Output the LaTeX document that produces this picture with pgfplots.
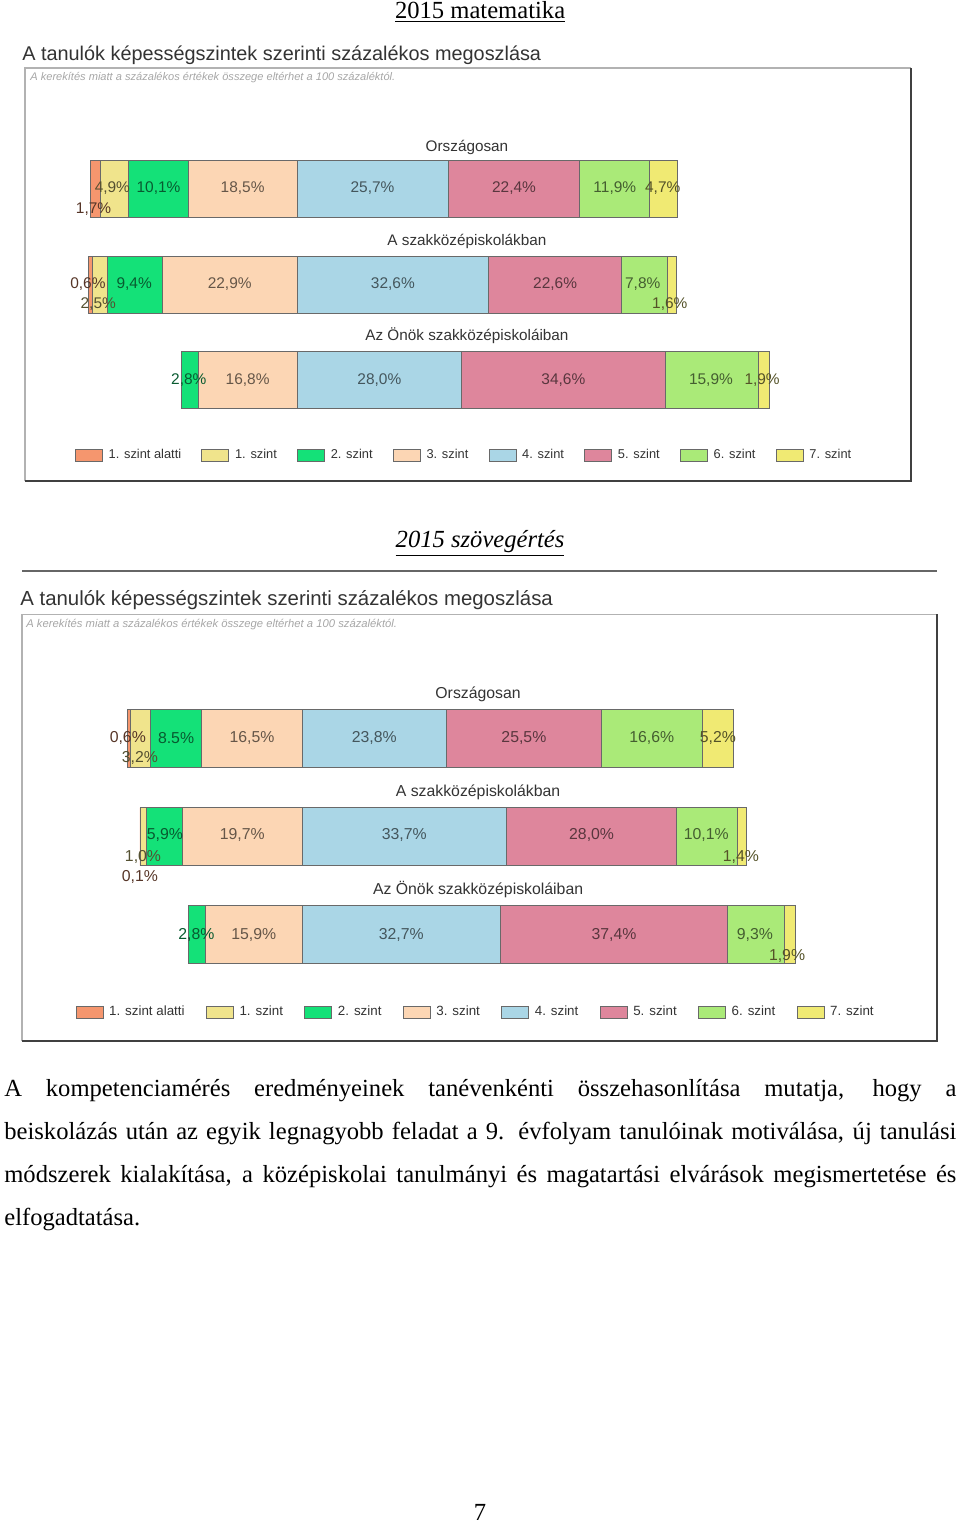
\documentclass[border=0pt]{standalone}
\usepackage{fontspec}
\setmainfont{Liberation Serif}
\newfontfamily\arial{Liberation Sans}
\usepackage{pgfplots}
\pgfplotsset{compat=1.18}

\definecolor{lv0}{RGB}{245,150,110}
\definecolor{lv1}{RGB}{240,228,140}
\definecolor{lv2}{RGB}{20,225,120}
\definecolor{lv3}{RGB}{252,214,180}
\definecolor{lv4}{RGB}{170,214,230}
\definecolor{lv5}{RGB}{222,134,156}
\definecolor{lv6}{RGB}{170,234,120}
\definecolor{lv7}{RGB}{240,234,115}
\definecolor{edge}{RGB}{105,105,105}
\definecolor{txt}{RGB}{51,51,51}

\pgfplotsset{
  lvl/.style={fill=#1, draw=edge, line width=0.5pt,
    legend image code/.code={\draw[fill=#1,draw=edge,line width=0.5pt] (0cm,-0.12cm) rectangle (0.54cm,0.12cm);}},
  geomA/.style={hide axis, scale only axis, clip=false, at={(9.36cm,-5.49cm)}, anchor=center,
    width=17.72cm, height=8.26cm, xmin=3.74, xmax=154.42, ymin=-481, ymax=-68},
  geomB/.style={hide axis, scale only axis, clip=false, at={(9.59cm,-16.55cm)}, anchor=center,
    width=18.3cm, height=8.54cm, xmin=3.87, xmax=154.6, ymin=-1041, ymax=-614},
  szint/.style={xbar stacked, legend columns=8,
    legend style={draw=none, fill=none, anchor=center, inner sep=0pt, text=txt,
      nodes={inner sep=1pt},
      /tikz/every odd column/.append style={column sep=0.08cm}}},
}
\tikzset{
  lab/.style={font=\arial\fontsize{#1}{10}\selectfont, inner sep=0pt},
  grp/.style={font=\arial\fontsize{#1}{10}\selectfont, text=txt, inner sep=0pt},
}

\begin{document}
\begin{tikzpicture}
\path[use as bounding box] (0,0) rectangle (19.2cm,-30.5cm);

% ---------- 2015 matematika ----------
\begin{axis}[geomA, szint, bar width=57,
  legend style={at={(0.4955,0.063)}, font=\arial\fontsize{7.3}{8}\selectfont,
    /tikz/every even column/.append style={column sep=0.37cm}}]
\addplot[draw=none, fill=none, forget plot] coordinates {(14.8,-188.5) (14.6,-284.5) (30.4,-380)};
\addplot[lvl=lv0] coordinates {(1.7,-188.5) (0.6,-284.5) (0,-380)};
\addplot[lvl=lv1] coordinates {(4.9,-188.5) (2.5,-284.5) (0,-380)};
\addplot[lvl=lv2] coordinates {(10.1,-188.5) (9.4,-284.5) (2.8,-380)};
\addplot[lvl=lv3] coordinates {(18.5,-188.5) (22.9,-284.5) (16.8,-380)};
\addplot[lvl=lv4] coordinates {(25.7,-188.5) (32.6,-284.5) (28.0,-380)};
\addplot[lvl=lv5] coordinates {(22.4,-188.5) (22.6,-284.5) (34.6,-380)};
\addplot[lvl=lv6] coordinates {(11.9,-188.5) (7.8,-284.5) (15.9,-380)};
\addplot[lvl=lv7] coordinates {(4.7,-188.5) (1.6,-284.5) (1.9,-380)};
\legend{1. szint alatti,1. szint,2. szint,3. szint,4. szint,5. szint,6. szint,7. szint}
\end{axis}
% labels on top of the bars
\begin{axis}[geomA]
\node[grp=8.7] at (axis cs:78.9,-147) {Országosan};
\node[grp=8.7] at (axis cs:78.9,-241) {A szakközépiskolákban};
\node[grp=8.7] at (axis cs:78.9,-336) {Az Önök szakközépiskoláiban};
\node[lab=8.8, text=lv0!35!black] at (axis cs:15.4,-209) {1,7\%};
\node[lab=8.8, text=lv1!35!black] at (axis cs:18.6,-188.5) {4,9\%};
\node[lab=8.8, text=lv2!40!black] at (axis cs:26.45,-188.5) {10,1\%};
\node[lab=8.8, text=lv3!40!black] at (axis cs:40.75,-188.5) {18,5\%};
\node[lab=8.8, text=lv4!40!black] at (axis cs:62.85,-188.5) {25,7\%};
\node[lab=8.8, text=lv5!40!black] at (axis cs:86.9,-188.5) {22,4\%};
\node[lab=8.8, text=lv6!40!black] at (axis cs:104.05,-188.5) {11,9\%};
\node[lab=8.8, text=lv7!35!black] at (axis cs:112.2,-188.5) {4,7\%};
\node[lab=8.8, text=lv0!35!black] at (axis cs:14.45,-284.5) {0,6\%};
\node[lab=8.8, text=lv1!35!black] at (axis cs:16.2,-304) {2,5\%};
\node[lab=8.8, text=lv2!40!black] at (axis cs:22.3,-284.5) {9,4\%};
\node[lab=8.8, text=lv3!40!black] at (axis cs:38.55,-284.5) {22,9\%};
\node[lab=8.8, text=lv4!40!black] at (axis cs:66.3,-284.5) {32,6\%};
\node[lab=8.8, text=lv5!40!black] at (axis cs:93.9,-284.5) {22,6\%};
\node[lab=8.8, text=lv6!40!black] at (axis cs:108.8,-284.5) {7,8\%};
\node[lab=8.8, text=lv7!35!black] at (axis cs:113.4,-304) {1,6\%};
\node[lab=8.8, text=lv2!40!black] at (axis cs:31.6,-380) {2,8\%};
\node[lab=8.8, text=lv3!40!black] at (axis cs:41.6,-380) {16,8\%};
\node[lab=8.8, text=lv4!40!black] at (axis cs:64,-380) {28,0\%};
\node[lab=8.8, text=lv5!40!black] at (axis cs:95.3,-380) {34,6\%};
\node[lab=8.8, text=lv6!40!black] at (axis cs:120.4,-380) {15,9\%};
\node[lab=8.8, text=lv7!35!black] at (axis cs:129.1,-380) {1,9\%};
\end{axis}

% ---------- 2015 szövegértés ----------
\begin{axis}[geomB, szint, bar width=58,
  legend style={at={(0.4956,0.068)}, font=\arial\fontsize{7.6}{8}\selectfont,
    /tikz/every even column/.append style={column sep=0.39cm}}]
\addplot[draw=none, fill=none, forget plot] coordinates {(21.2,-738) (23.3,-836.5) (31.3,-934.5)};
\addplot[lvl=lv0] coordinates {(0.6,-738) (0.1,-836.5) (0,-934.5)};
\addplot[lvl=lv1] coordinates {(3.2,-738) (1.0,-836.5) (0,-934.5)};
\addplot[lvl=lv2] coordinates {(8.5,-738) (5.9,-836.5) (2.8,-934.5)};
\addplot[lvl=lv3] coordinates {(16.5,-738) (19.7,-836.5) (15.9,-934.5)};
\addplot[lvl=lv4] coordinates {(23.8,-738) (33.7,-836.5) (32.7,-934.5)};
\addplot[lvl=lv5] coordinates {(25.5,-738) (28.0,-836.5) (37.4,-934.5)};
\addplot[lvl=lv6] coordinates {(16.6,-738) (10.1,-836.5) (9.3,-934.5)};
\addplot[lvl=lv7] coordinates {(5.2,-738) (1.4,-836.5) (1.9,-934.5)};
\legend{1. szint alatti,1. szint,2. szint,3. szint,4. szint,5. szint,6. szint,7. szint}
\end{axis}
\begin{axis}[geomB]
\node[grp=9] at (axis cs:79,-694) {Országosan};
\node[grp=9] at (axis cs:79,-792) {A szakközépiskolákban};
\node[grp=9] at (axis cs:79,-890) {Az Önök szakközépiskoláiban};
\node[lab=9, text=lv0!35!black] at (axis cs:21.3,-738) {0,6\%};
\node[lab=9, text=lv1!35!black] at (axis cs:23.3,-758) {3,2\%};
\node[lab=9, text=lv2!40!black] at (axis cs:29.25,-738) {8.5\%};
\node[lab=9, text=lv3!40!black] at (axis cs:41.75,-738) {16,5\%};
\node[lab=9, text=lv4!40!black] at (axis cs:61.9,-738) {23,8\%};
\node[lab=9, text=lv5!40!black] at (axis cs:86.55,-738) {25,5\%};
\node[lab=9, text=lv6!40!black] at (axis cs:107.6,-738) {16,6\%};
\node[lab=9, text=lv7!35!black] at (axis cs:118.5,-738) {5,2\%};
\node[lab=9, text=lv0!35!black] at (axis cs:23.3,-877) {0,1\%};
\node[lab=9, text=lv1!35!black] at (axis cs:23.8,-857) {1,0\%};
\node[lab=9, text=lv2!40!black] at (axis cs:27.4,-835) {5,9\%};
\node[lab=9, text=lv3!40!black] at (axis cs:40.15,-835) {19,7\%};
\node[lab=9, text=lv4!40!black] at (axis cs:66.85,-835) {33,7\%};
\node[lab=9, text=lv5!40!black] at (axis cs:97.7,-835) {28,0\%};
\node[lab=9, text=lv6!40!black] at (axis cs:116.6,-835) {10,1\%};
\node[lab=9, text=lv7!35!black] at (axis cs:122.3,-857) {1,4\%};
\node[lab=9, text=lv2!40!black] at (axis cs:32.6,-934.5) {2,8\%};
\node[lab=9, text=lv3!40!black] at (axis cs:42.05,-934.5) {15,9\%};
\node[lab=9, text=lv4!40!black] at (axis cs:66.35,-934.5) {32,7\%};
\node[lab=9, text=lv5!40!black] at (axis cs:101.4,-934.5) {37,4\%};
\node[lab=9, text=lv6!40!black] at (axis cs:124.6,-934.5) {9,3\%};
\node[lab=9, text=lv7!35!black] at (axis cs:129.9,-956) {1,9\%};
\end{axis}

% ---------- page layout (1 unit = 1 px of the page) ----------
\begin{scope}[x=0.02cm, y=-0.02cm]
\node[font=\fontsize{14}{16}\selectfont] at (480,12) {\underline{2015 matematika}};
\node[anchor=west, font=\arial\fontsize{11.3}{13}\selectfont, text=txt, inner sep=0pt] at (22,55)
  {A tanulók képességszintek szerinti százalékos megoszlása};
\node[anchor=west, font=\arial\itshape\fontsize{6.3}{7}\selectfont, text=gray!70, inner sep=0pt] at (30,78)
  {A kerekítés miatt a százalékos értékek összege eltérhet a 100 százaléktól.};
\draw[gray!60, line width=0.7pt] (25,481) -- (25,68) -- (911,68);
\draw[black!75, line width=1.4pt] (911,68) -- (911,481) -- (25,481);

\node[font=\itshape\fontsize{14}{16}\selectfont] at (480,543) {\underline{2015 szövegértés}};
\draw[gray!80!black, line width=0.9pt] (22,571) -- (937,571);
\node[anchor=west, font=\arial\fontsize{11.6}{13}\selectfont, text=txt, inner sep=0pt] at (20,600)
  {A tanulók képességszintek szerinti százalékos megoszlása};
\node[anchor=west, font=\arial\itshape\fontsize{6.4}{7}\selectfont, text=gray!70, inner sep=0pt] at (26,624)
  {A kerekítés miatt a százalékos értékek összege eltérhet a 100 százaléktól.};
\draw[gray!60, line width=0.7pt] (22,1041) -- (22,614) -- (937,614);
\draw[black!75, line width=1.4pt] (937,614) -- (937,1041) -- (22,1041);

\node[anchor=north west, inner sep=0pt, text width=19.04cm, align=justify,
  font=\fontsize{14}{24.4}\selectfont] at (4,1079)
  {\hyphenpenalty=10000\exhyphenpenalty=10000
   A kompetenciamérés eredményeinek tanévenkénti összehasonlítása mutatja, hogy a\linebreak
   beiskolázás után az egyik legnagyobb feladat a 9. évfolyam tanulóinak motiválása, új tanulási\linebreak
   módszerek kialakítása, a középiskolai tanulmányi és magatartási elvárások megismertetése és\linebreak
   elfogadtatása.};
\node[font=\fontsize{14}{16}\selectfont] at (480,1512) {7};
\end{scope}
\end{tikzpicture}
\end{document}
